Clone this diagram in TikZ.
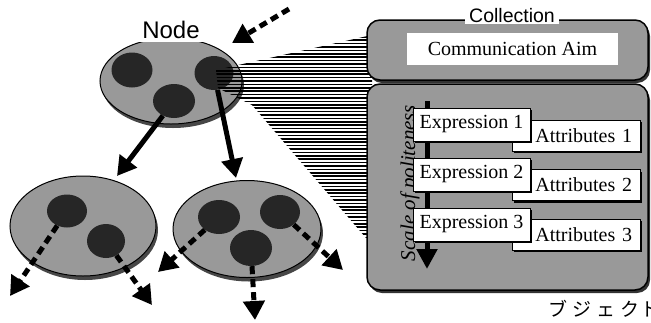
\documentclass[tikz,border=0pt]{standalone}
\usepackage{fontspec}
\setmainfont{Liberation Serif}
\newfontfamily\sansf{Liberation Sans}
\newfontfamily\cjk{Noto Sans CJK JP}
\usetikzlibrary{shapes.geometric,arrows.meta,shadows}
\tikzset{
  disc/.style={ellipse, draw, line width=1pt, fill=black!40, inner sep=0pt,
    general shadow={shadow xshift=2pt, shadow yshift=-4pt, fill=black!72}},
  core/.style={ellipse, fill=black!85, inner sep=0pt},
  solidarr/.style={line width=5pt, -{Triangle[width=21pt,length=19pt]}},
  dasharr/.style={line width=5pt, dash pattern=on 8pt off 5pt, -{Triangle[width=21pt,length=19pt]}},
  panel/.style={draw, line width=1.5pt, rounded corners=13pt, fill=black!40, inner sep=0pt,
    general shadow={shadow xshift=2pt, shadow yshift=-3pt, fill=black!80}},
  exprbox/.style={draw, fill=white, line width=0.8pt, inner sep=0pt, minimum height=33pt,
    minimum width=117pt, font=\fontsize{20}{24}\selectfont,
    general shadow={shadow xshift=2pt, shadow yshift=-2pt, fill=black}},
  attrbox/.style={draw, fill=white, line width=0.8pt, inner xsep=8pt, inner ysep=0pt,
    minimum height=31pt, text width=112pt, align=right, font=\fontsize{20}{24}\selectfont,
    general shadow={shadow xshift=2pt, shadow yshift=-2pt, fill=black}},
  stripe/.style={line width=1.7pt}
}
\begin{document}
\begin{tikzpicture}[x=1pt,y=-1pt]
\useasboundingbox (0,0) rectangle (651,322);

% ---- top node ----
\node[disc, minimum width=142pt, minimum height=86pt] (top) at (171,81) {};
\node[core, minimum width=41pt, minimum height=35pt] (tc1) at (132,70) {};
\node[core, minimum width=42pt, minimum height=34pt] (tc2) at (174,101) {};
\node[core, minimum width=39pt, minimum height=34pt] (tc3) at (214,73) {};

% ---- hatched beam ----
\begin{scope}
  \clip (216,70) -- (372,35) -- (372,245) -- (252,105) -- (218,88) -- cycle;
  \foreach \y in {30,33.4,...,250} \draw[stripe] (210,\y) -- (375,\y);
\end{scope}

\node[fill=white, inner sep=0pt, minimum width=77pt, minimum height=24pt,
  font=\sansf\fontsize{24}{28}\selectfont] (nodelabel) at (171,29.5) {Node};

\coordinate (inS) at (289,9);
\coordinate (inE) at (232,43);
\draw[dasharr] (inS) -- (inE);

% ---- bottom left node ----
\node[disc, minimum width=146pt, minimum height=100pt] (left) at (83,226) {};
\node[core, minimum width=40pt, minimum height=33pt] (lc1) at (67,211) {};
\node[core, minimum width=38pt, minimum height=34pt] (lc2) at (106,241) {};

% ---- bottom right node ----
\node[disc, minimum width=148pt, minimum height=97pt] (right) at (247,229) {};
\node[core, minimum width=42pt, minimum height=34pt] (rc1) at (219,217) {};
\node[core, minimum width=40pt, minimum height=34pt] (rc2) at (280,212) {};
\node[core, minimum width=42pt, minimum height=36pt] (rc3) at (251,248) {};

% ---- solid arrows ----
\coordinate (tipA) at (117,176);
\coordinate (tipB) at (236,178);
\draw[solidarr] (tc2) -- (tipA);
\draw[solidarr] (tc3) -- (tipB);

% ---- dashed arrows ----
\coordinate (l1t) at (10,296);
\coordinate (l2t) at (152,305);
\coordinate (r1t) at (158,272);
\coordinate (r3t) at (255,320);
\coordinate (r2t) at (343,270);
\draw[dasharr] (lc1) -- (l1t);
\draw[dasharr] (lc2) -- (l2t);
\draw[dasharr] (rc1) -- (r1t);
\draw[dasharr] (rc3) -- (r3t);
\draw[dasharr] (rc2) -- (r2t);

% ---- collection ----
\node[panel, minimum width=281pt, minimum height=60pt] (aimbox) at (507.5,50) {};
\node[panel, minimum width=281pt, minimum height=206pt] (listbox) at (507.5,187) {};
\node[fill=white, inner xsep=4pt, inner ysep=1pt, font=\sansf\fontsize{19.5}{22}\selectfont] (coll) at (512,16) {Collection};
\node[fill=white, inner sep=0pt, minimum width=211pt, minimum height=32pt,
  font=\fontsize{20}{24}\selectfont] (aim) at (512.5,49) {Communication Aim};

\node[rotate=90, inner sep=0pt, font=\itshape\fontsize{21}{24}\selectfont] (scale) at (410,183) {Scale of politeness};
\coordinate (stop) at (427,101);
\coordinate (sbot) at (427,269);
\draw[line width=5pt, -{Triangle[width=20pt,length=20pt]}] (stop) -- (sbot);

\node[attrbox] (a1) at (576,135.5) {Attributes 1};
\node[exprbox] (e1) at (471.5,124.5) {Expression 1};
\node[attrbox] (a2) at (576,185) {Attributes 2};
\node[exprbox] (e2) at (471.5,174.5) {Expression 2};
\node[attrbox] (a3) at (576,234.5) {Attributes 3};
\node[exprbox] (e3) at (471.5,224.5) {Expression 3};

\node[anchor=base west, inner sep=0pt, font=\cjk\fontsize{19}{22}\selectfont] (jp) at (548,316)
  {ブ\hspace{5pt}ジ\hspace{5pt}ェ\hspace{5pt}ク\hspace{1pt}ト};
\end{tikzpicture}
\end{document}
